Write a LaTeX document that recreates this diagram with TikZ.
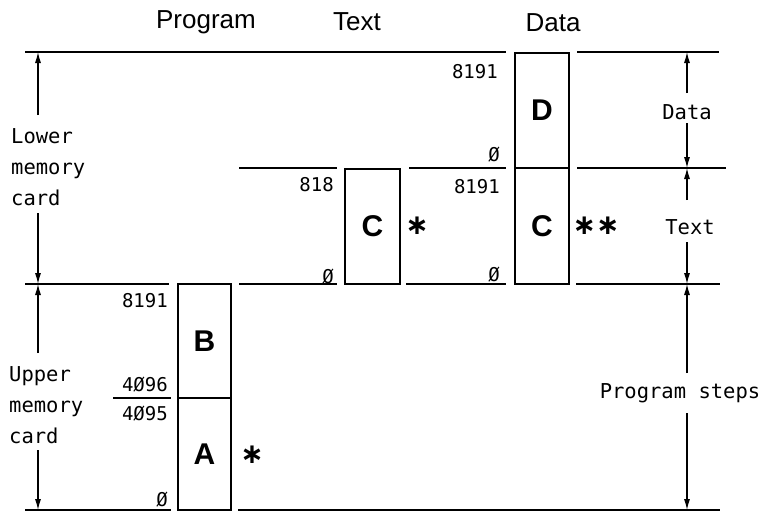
\documentclass[tikz,border=0pt]{standalone}
\usepackage{fontspec}
\setmainfont{Liberation Sans}
\newfontfamily\monofam{DejaVu Sans Mono}
\newfontfamily\symfam{DejaVu Sans}
\usetikzlibrary{arrows.meta}
\tikzset{
  memline/.style={line width=2.4pt},
  membox/.style={draw,line width=2.2pt,inner sep=0pt,font=\fontsize{30}{30}\selectfont\bfseries},
  dimarrow/.style={line width=1.1pt,-{Latex[length=11pt,width=6pt]}},
  head/.style={font=\fontsize{26}{26}\selectfont},
  num/.style={font=\monofam\fontsize{19}{19}\selectfont,anchor=east,inner sep=0pt},
  side/.style={font=\monofam\fontsize{20.5}{31}\selectfont,align=left,inner sep=0pt},
  star/.style={font=\symfam\bfseries\fontsize{28}{28}\selectfont,inner sep=0pt}
}
\begin{document}
\begin{tikzpicture}[x=1pt,y=-1pt]
\useasboundingbox (0,0) rectangle (766,514);
% headings
\node[head] (hprog) at (206,22) {Program};
\node[head] (htext) at (357,22) {Text};
\node[head] (hdata) at (553,23) {Data};
% horizontal memory lines
\draw[memline] (25,52) -- (506,52);
\draw[memline] (577,52) -- (719,52);
\draw[memline] (239,168) -- (337,168);
\draw[memline] (409,168) -- (506,168);
\draw[memline] (577,168) -- (726,168);
\draw[memline] (25,284) -- (169,284);
\draw[memline] (239,284) -- (337,284);
\draw[memline] (406,284) -- (506,284);
\draw[memline] (576,284) -- (720,284);
\draw[memline] (113,398) -- (171,398);
\draw[memline] (25,510) -- (171,510);
\draw[memline] (238,510) -- (720,510);
% boxes
\node[membox,minimum width=54pt,minimum height=115pt] (boxD) at (542,110.5) {D};
\node[membox,minimum width=54pt,minimum height=116pt] (boxCd) at (542,226) {C};
\node[membox,minimum width=55pt,minimum height=115pt] (boxCt) at (372.5,226.5) {C};
\node[membox,minimum width=53pt,minimum height=114pt] (boxB) at (204.5,341) {B};
\node[membox,minimum width=53pt,minimum height=112pt] (boxA) at (204.5,454) {A};
% asterisks
\node[star] (s1) at (417,226) {∗};
\node[star] (s2) at (596,226) {∗∗};
\node[star] (s3) at (252,455) {∗};
% numbers
\node[num] (n1) at (498,72) {8191};
\node[num] (n2) at (500,155) {Ø};
\node[num] (n3) at (500,187) {8191};
\node[num] (n4) at (500,275) {Ø};
\node[num] (n5) at (334,185) {818};
\node[num] (n6) at (334,277) {Ø};
\node[num] (n7) at (168,301) {8191};
\node[num] (n8) at (168,385) {4Ø96};
\node[num] (n9) at (168,414) {4Ø95};
\node[num] (n10) at (168,500) {Ø};
% left side labels
\node[side,anchor=west] (lower) at (11,167) {Lower\\memory\\card};
\node[side,anchor=west] (upper) at (9,405) {Upper\\memory\\card};
\coordinate (l1) at (38,52);
\coordinate (l2) at (38,115);
\coordinate (l3) at (38,213);
\coordinate (l4) at (38,284);
\coordinate (l5) at (38,353);
\coordinate (l6) at (38,450);
\coordinate (l7) at (38,510);
\draw[dimarrow] (l2) -- (l1);
\draw[dimarrow] (l3) -- (l4);
\draw[dimarrow] (l5) -- (l4);
\draw[dimarrow] (l6) -- (l7);
% right side labels
\node[side] (rdata) at (687,112) {Data};
\node[side] (rtext) at (690,227) {Text};
\node[side] (rprog) at (680,393) {Program steps};
\coordinate (r1) at (687,52);
\coordinate (r2) at (687,168);
\coordinate (r3) at (687,284);
\coordinate (r4) at (687,510);
\draw[dimarrow] (687,93) -- (r1);
\draw[dimarrow] (687,123) -- (r2);
\draw[dimarrow] (687,200) -- (r2);
\draw[dimarrow] (687,242) -- (r3);
\draw[dimarrow] (687,373) -- (r3);
\draw[dimarrow] (687,413) -- (r4);
\end{tikzpicture}
\end{document}
